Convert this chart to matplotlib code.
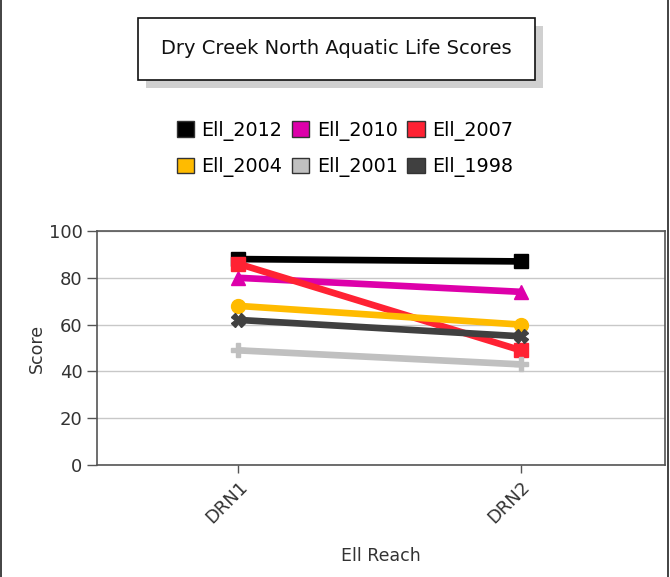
import matplotlib
matplotlib.use('Agg')
from matplotlib import pyplot as plt
from matplotlib.patches import Rectangle, Patch
from matplotlib.lines import Line2D

#------------------------------------------------------------------
#-------------------- Dados ---------------------------------------
#------------------------------------------------------------------
reaches = ['DRN1', 'DRN2']
ell_2012 = [88, 87]
ell_2010 = [80, 74]
ell_2007 = [86, 49]
ell_2004 = [68, 60]
ell_2001 = [49, 43]
ell_1998 = [62, 55]

series = [
    ('Ell_2012', ell_2012, '#000000', 's'),
    ('Ell_2010', ell_2010, '#DD00AA', '^'),
    ('Ell_2007', ell_2007, '#FF2233', 's'),
    ('Ell_2004', ell_2004, '#FFBB00', 'o'),
    ('Ell_2001', ell_2001, '#C0C0C0', 'P'),
    ('Ell_1998', ell_1998, '#404040', 'X'),
]

#------------------------------------------------------------------
#-------------------- Gráfico -------------------------------------
#------------------------------------------------------------------
fig = plt.figure(figsize=(6.7, 5.77), dpi=100)
fig.patch.set_facecolor('white')

# borda da figura
fig.add_artist(Line2D([0.002, 0.002], [0, 1], transform=fig.transFigure, color='#222222', lw=1.2))
fig.add_artist(Line2D([0.997, 0.997], [0, 1], transform=fig.transFigure, color='#222222', lw=1.2))

# caixa do titulo com sombra
bx, by, bw, bh = 138 / 670, 1 - 80 / 577, 397 / 670, 62 / 577
fig.add_artist(Rectangle((bx + 8 / 670, by - 8 / 577), bw, bh, transform=fig.transFigure,
                         facecolor='#D0D0D0', edgecolor='none'))
fig.add_artist(Rectangle((bx, by), bw, bh, transform=fig.transFigure,
                         facecolor='white', edgecolor='#111111', lw=1.2))
fig.text(bx + bw / 2, by + bh / 2, 'Dry Creek North Aquatic Life Scores',
         ha='center', va='center', fontsize=14, color='#111111')

ax = fig.add_axes([97 / 670, 1 - 465 / 577, 568 / 670, 234 / 577])
x = list(range(len(reaches)))
for nome, valores, cor, marcador in series:
    ax.plot(x, valores, color=cor, lw=4.8, marker=marcador, markersize=10,
            markeredgecolor=cor, solid_capstyle='butt', zorder=3)

ax.set_xlim(-0.5, 1.51)
ax.set_ylim(0, 100)
ax.set_yticks([0, 20, 40, 60, 80, 100])
ax.set_xticks(x)
ax.set_xticklabels(reaches, rotation=45, ha='right', rotation_mode='anchor')
ax.yaxis.grid(True, color='#C8C8C8', lw=1)
ax.set_axisbelow(True)
for s in ax.spines.values():
    s.set_color('#555555')
    s.set_linewidth(1.2)
ax.tick_params(colors='#555555', labelcolor='#333333', labelsize=13, length=6, width=1)
ax.tick_params(axis='y', length=7)
ax.set_ylabel('Score', fontsize=12.5, color='#333333', labelpad=2)
ax.set_xlabel('Ell Reach', fontsize=12.5, color='#333333', labelpad=14)

# legenda (ordem por colunas para ficar igual a original)
handles = [Patch(facecolor=cor, edgecolor='#333333', lw=1) for _, _, cor, _ in series]
labels = [nome for nome, _, _, _ in series]
ordem = [0, 3, 1, 4, 2, 5]
fig.legend([handles[i] for i in ordem], [labels[i] for i in ordem], ncol=3,
           loc='center', bbox_to_anchor=(345 / 670, 1 - 149 / 577), frameon=False,
           fontsize=13.8, handlelength=0.9, handleheight=0.9, handletextpad=0.4,
           columnspacing=0.5, labelspacing=0.85)

fig.savefig('out.png', dpi=100)
